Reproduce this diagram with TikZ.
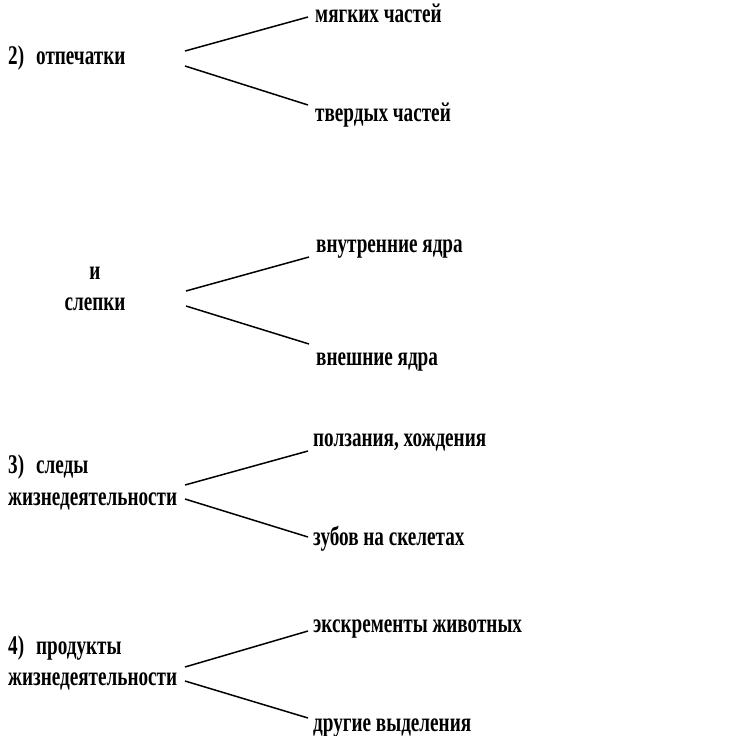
\documentclass[tikz,border=0pt]{standalone}
\usepackage{fontspec}
\setmainfont{Liberation Serif}[FakeStretch=0.71]
\begin{document}
\begin{tikzpicture}[x=1pt, y=-1pt,
  lbl/.style={font=\bfseries\fontsize{27}{32}\selectfont, inner sep=0pt, anchor=base west},
  fork/.style={line width=1.5pt}]
\useasboundingbox (0,0) rectangle (739,736);

\node [lbl] (imprint) at (8,64) {2)\hspace{12pt}отпечатки};
\node [lbl] (soft) at (315,23) {мягких частей};
\node [lbl] (hard) at (315,121) {твердых частей};
\coordinate (a1) at (185,51);
\coordinate (a2) at (185,66);
\draw[fork] (a1) -- (308,17);
\draw[fork] (a2) -- (308,105);

\node [lbl, anchor=base] (and) at (95,279) {и};
\node [lbl, anchor=base] (casts) at (95,310) {слепки};
\node [lbl] (inner) at (316,252) {внутренние ядра};
\node [lbl] (outer) at (316,365) {внешние ядра};
\coordinate (b1) at (186,291);
\coordinate (b2) at (186,306);
\draw[fork] (b1) -- (309,257);
\draw[fork] (b2) -- (309,344);

\node [lbl] (traces) at (8,473) {3)\hspace{12pt}следы};
\node [lbl] (life1) at (8,505) {жизнедеятельности};
\node [lbl] (crawl) at (313,446) {ползания, хождения};
\node [lbl] (teeth) at (313,545) {зубов на скелетах};
\coordinate (c1) at (185,485);
\coordinate (c2) at (185,499);
\draw[fork] (c1) -- (308,451);
\draw[fork] (c2) -- (308,537);

\node [lbl] (products) at (8,654) {4)\hspace{12pt}продукты};
\node [lbl] (life2) at (8,685) {жизнедеятельности};
\node [lbl] (dung) at (313,632) {экскременты животных};
\node [lbl] (other) at (313,731) {другие выделения};
\coordinate (d1) at (185,667);
\coordinate (d2) at (185,681);
\draw[fork] (d1) -- (308,631);
\draw[fork] (d2) -- (308,718);
\end{tikzpicture}
\end{document}
